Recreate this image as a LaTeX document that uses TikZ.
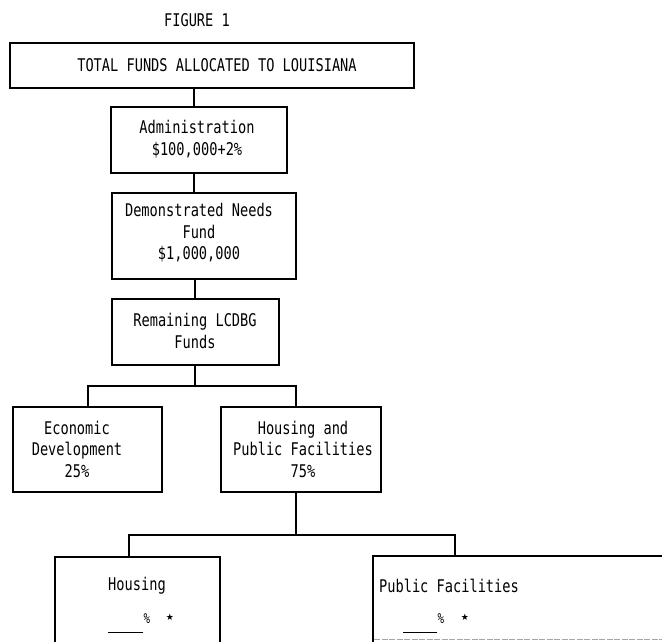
\documentclass[tikz,border=0pt]{standalone}
\usepackage{fontspec}
\newfontfamily\tw[FakeStretch=0.78]{DejaVu Sans Mono}
\newfontfamily\symf{DejaVu Sans}
\begin{document}
\begin{tikzpicture}[x=1pt,y=-1pt,
  box/.style={draw,line width=1.4pt,rectangle,inner sep=0pt,outer sep=0pt},
  txt/.style={font=\tw\fontsize{17.5}{21.5}\selectfont,align=center,inner sep=0pt},
  conn/.style={line width=1.3pt}]
\useasboundingbox (0,0) rectangle (662,641);
\clip (0,0) rectangle (662,641);
% boxes
\node[box,minimum width=404pt,minimum height=45pt] (total) at (212,65.5) {};
\node[box,minimum width=176pt,minimum height=66pt] (admin) at (199,140) {};
\node[box,minimum width=184pt,minimum height=86pt] (dem) at (204,236) {};
\node[box,minimum width=167pt,minimum height=66pt] (rem) at (195.5,332) {};
\node[box,minimum width=149pt,minimum height=85pt] (econ) at (87.5,449.5) {};
\node[box,minimum width=160pt,minimum height=85pt] (hpf) at (301,449.5) {};
\node[box,minimum width=165pt,minimum height=110pt] (hous) at (137.5,612) {};
\node[box,minimum width=310pt,minimum height=110pt] (pf) at (528,611) {};
\coordinate (pfb1) at (374,639.5);
\coordinate (pfb2) at (662,639.5);
\draw[line width=1pt,black!35,dash pattern=on 6pt off 1.5pt] (pfb1) -- (pfb2);
% texts
\node[txt] (fig) at (197,20) {FIGURE 1};
\node[txt] (ttot) at (217,65) {TOTAL FUNDS ALLOCATED TO LOUISIANA};
\node[txt] (tadm) at (197,139) {Administration\\\$100,000+2\%};
\node[txt] (tdem) at (199,233) {Demonstrated Needs\\Fund\\\$1,000,000};
\node[txt] (trem) at (195,331) {Remaining LCDBG\\Funds};
\node[txt] (tecon) at (77,449) {Economic\\Development\\25\%};
\node[txt] (thpf) at (303,449) {Housing and\\Public Facilities\\75\%};
\node[txt] (thous) at (137,586) {Housing};
\node[txt] (tpf) at (449,586) {Public Facilities};
% blanks with percent and star
\coordinate (hb1) at (108,632); \coordinate (hb2) at (143,632);
\draw[conn,line width=1pt] (hb1) -- (hb2);
\node[txt,font=\tw\fontsize{14}{15}\selectfont] (hpct) at (147,619) {\%};
\node[inner sep=0pt,font=\symf\fontsize{9}{10}\selectfont] (hstar) at (170,617) {★};
\coordinate (pb1) at (403,632); \coordinate (pb2) at (437,632);
\draw[conn,line width=1pt] (pb1) -- (pb2);
\node[txt,font=\tw\fontsize{14}{15}\selectfont] (ppct) at (441,619) {\%};
\node[inner sep=0pt,font=\symf\fontsize{9}{10}\selectfont] (pstar) at (465,617) {★};
% connectors
\coordinate (c1) at (194,0);
\coordinate (c3) at (195,0);
\draw[conn] (total.south -| c1) -- (admin.north -| c1);
\draw[conn] (admin.south -| c1) -- (dem.north -| c1);
\draw[conn] (dem.south -| c3) -- (rem.north -| c3);
\coordinate (j1) at (195,386);
\coordinate (e1) at (88,386);
\coordinate (e2) at (296,386);
\draw[conn] (rem.south -| j1) -- (j1);
\draw[conn] (econ.north -| e1) -- (e1) -- (e2) -- (hpf.north -| e2);
\coordinate (j2) at (296,535);
\coordinate (f1) at (129,535);
\coordinate (f2) at (455,535);
\draw[conn] (hpf.south -| j2) -- (j2);
\draw[conn] (hous.north -| f1) -- (f1) -- (f2) -- (pf.north -| f2);
\end{tikzpicture}
\end{document}
